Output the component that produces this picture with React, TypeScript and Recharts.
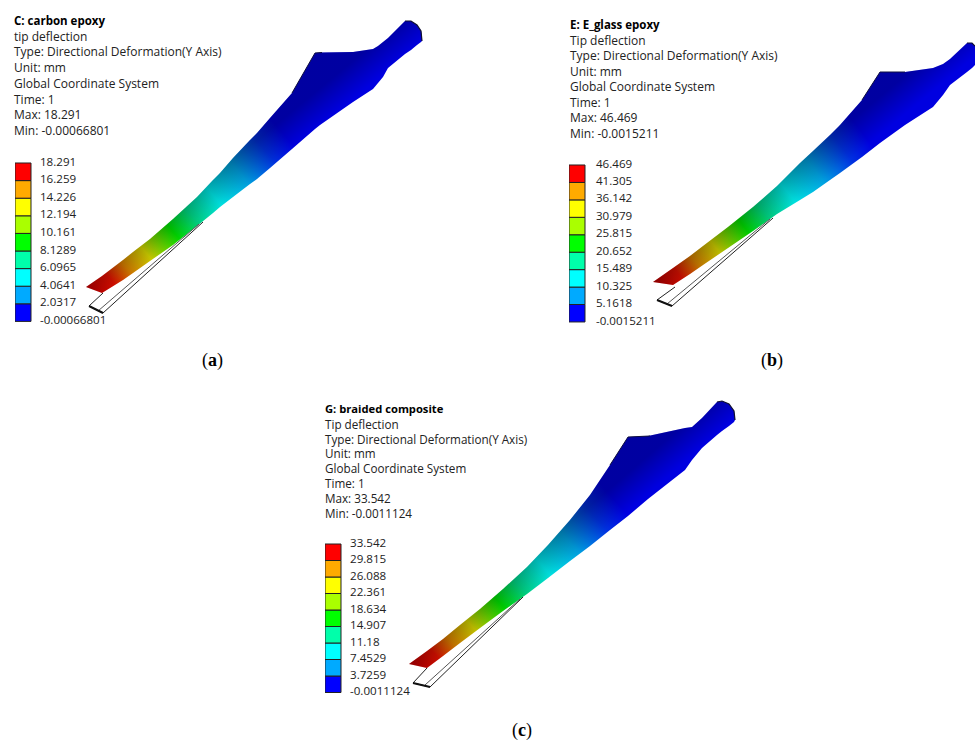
import { Area, Bar, BarChart, ComposedChart, Line, XAxis, YAxis } from 'recharts';

const WIDTH = 975;
const HEIGHT = 740;

const LEGEND_COLORS = ['#0000ff', '#00aaff', '#00ffff', '#00ffaa', '#00ff00', '#aaff00', '#ffff00', '#ffaa00', '#ff0000'];
const LEGEND_TICKS = [0, 1, 2, 3, 4, 5, 6, 7, 8, 9];

// contour shading along the blade, tip to root
const STOPS: [number, string][] = [
  [0, '#c80000'],
  [0.08, '#e01000'],
  [0.16, '#d88000'],
  [0.26, '#d0d000'],
  [0.4, '#00dc00'],
  [0.5, '#00d484'],
  [0.62, '#00e4e4'],
  [0.76, '#00a0e0'],
  [0.9, '#0030e0'],
  [1, '#0000e0'],
];

// panel a
const titleA = 'C: carbon epoxy';
const infoA = ['tip deflection', 'Type: Directional Deformation(Y Axis)', 'Unit: mm', 'Global Coordinate System', 'Time: 1', 'Max: 18.291', 'Min: -0.00066801'];
const labelsA = ['-0.00066801', '2.0317', '4.0641', '6.0965', '8.1289', '10.161', '12.194', '14.226', '16.259', '18.291'];
const xA = [86, 102, 123, 133, 150, 173, 197, 213, 220, 233, 250, 257, 270, 292, 315, 320, 353, 373, 378, 383, 388, 405, 411, 417, 421, 422];
const topA = [287, 276, 260, 252, 239, 219, 197, 180, 173, 158, 140, 133, 118, 93, 53, 52.5, 52, 49, 46, 42, 38, 21, 21, 25, 31, 36];
const bottomA = [287, 293, 280, 273, 261, 245, 226, 213, 207, 197, 184, 179, 168, 149, 129, 125, 102, 89, 83, 77, 68, 54, 50, 45, 42, 41];
const outerA = [[103, 293], [89, 306], [103, 313], [203, 222]];
const innerA = [[98, 311], [199, 224]];
const baseA = [[89, 306], [103, 313]];
const edgeA = [[292, 93], [315, 53], [322, 52.5]];
const capA = [[405, 21], [411, 21], [417, 25], [421, 31], [422, 41]];

// panel b
const titleB = 'E: E_glass epoxy';
const infoB = ['Tip deflection', 'Type: Directional Deformation(Y Axis)', 'Unit: mm', 'Global Coordinate System', 'Time: 1', 'Max: 46.469', 'Min: -0.0015211'];
const labelsB = ['-0.0015211', '5.1618', '10.325', '15.489', '20.652', '25.815', '30.979', '36.142', '41.305', '46.469'];
const xB = [653, 673, 690, 703, 728, 753, 777, 800, 813, 830, 840, 862, 880, 905, 933, 943, 950, 967, 972, 975];
const topB = [282, 268, 256, 246, 227, 207, 186, 163, 151, 135, 125, 100, 72, 72, 68, 64, 59, 43, 43, 46];
const bottomB = [282, 285, 274, 265, 248, 231, 214, 200, 192, 180, 173, 157, 143, 125, 107, 95, 85, 72, 68, 65];
const outerB = [[675, 287], [657, 300], [672, 306], [773, 218]];
const innerB = [[667, 304], [770, 219]];
const baseB = [[657, 300], [672, 306]];
const edgeB = [[862, 100], [880, 72], [905, 72]];
const capB = [[967, 43], [972, 43], [975, 46]];

// panel c
const titleC = 'G: braided composite';
const infoC = ['Tip deflection', 'Type: Directional Deformation(Y Axis)', 'Unit: mm', 'Global Coordinate System', 'Time: 1', 'Max: 33.542', 'Min: -0.0011124'];
const labelsC = ['-0.0011124', '3.7259', '7.4529', '11.18', '14.907', '18.634', '22.361', '26.088', '29.815', '33.542'];
const xC = [409, 427, 443, 460, 480, 503, 527, 548, 570, 590, 610, 628, 648, 685, 692, 702, 717, 722, 729, 734, 735];
const topC = [664, 651, 639, 625, 609, 589, 567, 545, 520, 495, 465, 437, 436, 428, 427, 418, 402, 401, 404, 411, 418];
const bottomC = [664, 668, 656, 643, 628, 611, 594, 578, 561, 546, 530, 516, 499, 470, 460, 448, 435, 431, 426, 422, 420];
const outerC = [[427, 668], [413, 683], [430, 687], [523, 597]];
const innerC = [[425, 685], [520, 599]];
const baseC = [[413, 683], [430, 687]];
const edgeC = [[610, 465], [628, 437], [650, 436]];
const capC = [[717, 402], [722, 401], [729, 404], [734, 411], [735, 420]];

const toPoints = (pts: number[][]) => pts.map(([x, y]) => ({ x, y }));

function Blade({ id, xs, tops, bottoms, outer, inner, base, edge, cap, axis, shade }: {
  id: string;
  xs: number[];
  tops: number[];
  bottoms: number[];
  outer: number[][];
  inner: number[][];
  base: number[][];
  edge: number[][];
  cap: number[][];
  axis: number[];
  shade: number[];
}) {
  const data = xs.map((x, i) => ({ x, range: [tops[i], bottoms[i]] }));
  return (
    <div style={{ position: 'absolute', left: 0, top: 0 }}>
      <ComposedChart width={WIDTH} height={HEIGHT} data={data} margin={{ top: 0, right: 0, bottom: 0, left: 0 }}>
        <defs>
          <linearGradient id={id} gradientUnits="userSpaceOnUse" x1={axis[0]} y1={axis[1]} x2={axis[2]} y2={axis[3]}>
            {STOPS.map(([offset, color]) => (
              <stop key={offset} offset={offset} stopColor={color} />
            ))}
          </linearGradient>
          <linearGradient id={`${id}Shade`} gradientUnits="userSpaceOnUse" x1={shade[0]} y1={shade[1]} x2={shade[2]} y2={shade[3]}>
            <stop offset={0} stopColor="#000" stopOpacity={0} />
            <stop offset={1} stopColor="#000" stopOpacity={0.28} />
          </linearGradient>
        </defs>
        <XAxis dataKey="x" type="number" domain={[0, WIDTH]} hide />
        <YAxis type="number" domain={[0, HEIGHT]} reversed hide />
        <Line data={toPoints(outer)} dataKey="y" stroke="#222" strokeWidth={1} dot={false} activeDot={false} isAnimationActive={false} />
        <Line data={toPoints(inner)} dataKey="y" stroke="#555" strokeWidth={1} dot={false} activeDot={false} isAnimationActive={false} />
        <Line data={toPoints(base)} dataKey="y" stroke="#111" strokeWidth={2} dot={false} activeDot={false} isAnimationActive={false} />
        <Area dataKey="range" type="linear" stroke="none" fill={`url(#${id})`} fillOpacity={1} dot={false} activeDot={false} isAnimationActive={false} />
        <Area dataKey="range" type="linear" stroke="none" fill={`url(#${id}Shade)`} fillOpacity={1} dot={false} activeDot={false} isAnimationActive={false} />
        <Line data={toPoints(edge)} dataKey="y" stroke="#101040" strokeWidth={1} dot={false} activeDot={false} isAnimationActive={false} />
        <Line data={toPoints(cap)} dataKey="y" stroke="#101030" strokeWidth={1.2} dot={false} activeDot={false} isAnimationActive={false} />
      </ComposedChart>
    </div>
  );
}

function LegendTick({ x, y, payload, labels }: any) {
  return (
    <text x={x} y={y - 1.5} dy="0.35em" fontSize={11.6} fill="#222" fontFamily="'Open Sans', sans-serif">
      {labels[payload.value]}
    </text>
  );
}

function ColorLegend({ left, top, cellHeight, labels, gap }: {
  left: number;
  top: number;
  cellHeight: number;
  labels: string[];
  gap: number;
}) {
  const row: Record<string, number | string> = { name: 'scale' };
  LEGEND_COLORS.forEach((_, i) => {
    row[`c${i}`] = 1;
  });
  const pad = 12;
  return (
    <div style={{ position: 'absolute', left, top: top - pad }}>
      <BarChart
        width={140}
        height={cellHeight * 9 + pad * 2}
        data={[row]}
        margin={{ top: pad, right: 0, bottom: pad, left: 0 }}
        barCategoryGap={0}
      >
        <XAxis dataKey="name" hide />
        <YAxis
          orientation="right"
          type="number"
          domain={[0, 9]}
          ticks={LEGEND_TICKS}
          interval={0}
          width={124}
          axisLine={false}
          tickLine={false}
          tickMargin={gap}
          tick={<LegendTick labels={labels} />}
        />
        {LEGEND_COLORS.map((color, i) => (
          <Bar key={color} dataKey={`c${i}`} stackId="scale" fill={color} stroke="#222" strokeWidth={1} isAnimationActive={false} />
        ))}
      </BarChart>
    </div>
  );
}

function InfoBlock({ left, top, lineHeight, fontSize, title, info }: {
  left: number;
  top: number;
  lineHeight: number;
  fontSize: number;
  title: string;
  info: string[];
}) {
  return (
    <div style={{ position: 'absolute', left, top, fontFamily: "'Open Sans', sans-serif", fontSize, lineHeight: `${lineHeight}px`, color: '#222', whiteSpace: 'nowrap' }}>
      <div style={{ fontWeight: 700, color: '#000', fontSize: fontSize - 0.5 }}>{title}</div>
      {info.map((line) => (
        <div key={line}>{line}</div>
      ))}
    </div>
  );
}

function Caption({ left, top, letter }: { left: number; top: number; letter: string }) {
  return (
    <div style={{ position: 'absolute', left, top, fontFamily: "'Liberation Serif', serif", fontSize: 18, color: '#000' }}>
      (<b>{letter}</b>)
    </div>
  );
}

export default function App() {
  return (
    <div style={{ position: 'absolute', left: 0, top: 0, width: WIDTH, height: HEIGHT, background: '#fff', overflow: 'hidden' }}>
      <Blade id="bladeA" xs={xA} tops={topA} bottoms={bottomA} outer={outerA} inner={innerA} base={baseA} edge={edgeA} cap={capA} axis={[94, 290, 280, 130]} shade={[206, 221, 187, 198]} />
      <Blade id="bladeB" xs={xB} tops={topB} bottoms={bottomB} outer={outerB} inner={innerB} base={baseB} edge={edgeB} cap={capB} axis={[662, 285, 860, 130]} shade={[770, 226, 751, 203]} />
      <Blade id="bladeC" xs={xC} tops={topC} bottoms={bottomC} outer={outerC} inner={innerC} base={baseC} edge={edgeC} cap={capC} axis={[418, 666, 610, 495]} shade={[523, 602, 504, 580]} />

      <InfoBlock left={14} top={13} lineHeight={15.7} fontSize={12} title={titleA} info={infoA} />
      <InfoBlock left={570} top={17} lineHeight={15.5} fontSize={12} title={titleB} info={infoB} />
      <InfoBlock left={325} top={402} lineHeight={14.8} fontSize={11.7} title={titleC} info={infoC} />

      <ColorLegend left={15} top={163} cellHeight={17.6} labels={labelsA} gap={3} />
      <ColorLegend left={569} top={165} cellHeight={17.44} labels={labelsB} gap={5} />
      <ColorLegend left={325} top={544} cellHeight={16.5} labels={labelsC} gap={3} />

      <Caption left={202} top={350} letter="a" />
      <Caption left={761} top={350} letter="b" />
      <Caption left={512} top={720} letter="c" />
    </div>
  );
}
